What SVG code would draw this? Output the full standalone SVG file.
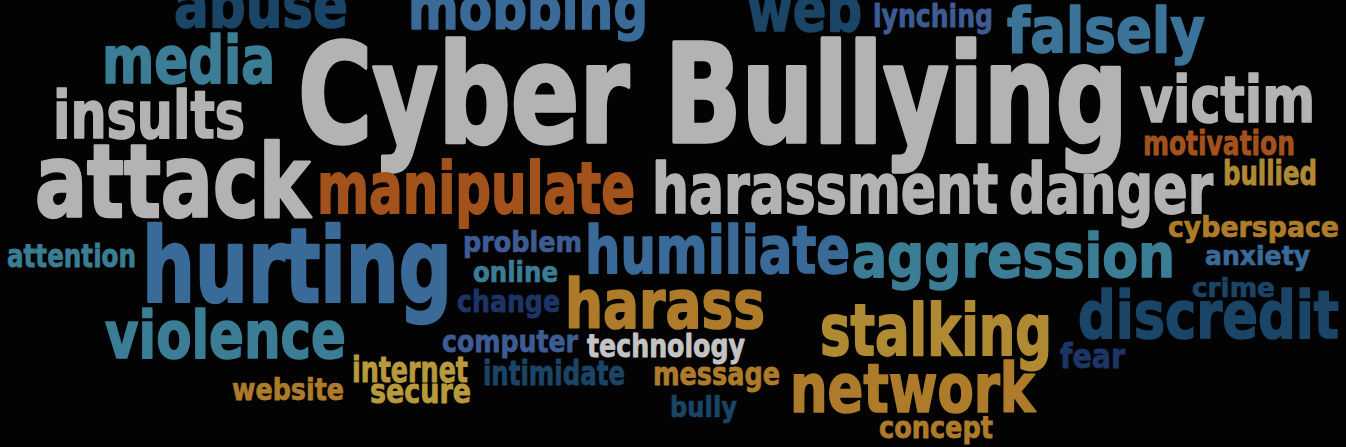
<svg xmlns="http://www.w3.org/2000/svg" width="1346" height="447" viewBox="0 0 1346 447">
<style>
text{font-family:"DejaVu Sans Condensed","DejaVu Sans","Liberation Sans Narrow",sans-serif;font-weight:bold;stroke-width:0.025em;stroke-linejoin:round;}
.gray{fill:#b3b3b3;stroke:#b3b3b3}
.light{fill:#c4c4c4;stroke:#c4c4c4}
.teal{fill:#3b7d95;stroke:#3b7d95}
.blue{fill:#3a6a98;stroke:#3a6a98}
.sky{fill:#3c7399;stroke:#3c7399}
.purple{fill:#3d5c94;stroke:#3d5c94}
.dark{fill:#1a4566;stroke:#1a4566}
.navy{fill:#1d3566;stroke:#1d3566}
.orange{fill:#a3521c;stroke:#a3521c}
.gold{fill:#ad7b2a;stroke:#ad7b2a}
.amber{fill:#b08a32;stroke:#b08a32}
.yellow{fill:#b89a3c;stroke:#b89a3c}
</style>
<rect width="1346" height="447" fill="#030303"/>
<g id="words">
<text id="abuse" class="dark" x="174" y="27" font-size="62" textLength="174" lengthAdjust="spacingAndGlyphs">abuse</text>
<text id="mobbing" class="blue" x="408" y="29" font-size="58" textLength="240" lengthAdjust="spacingAndGlyphs">mobbing</text>
<text id="web" class="dark" x="747" y="31" font-size="62" textLength="115" lengthAdjust="spacingAndGlyphs">web</text>
<text id="lynching" class="purple" x="873" y="27" font-size="32" textLength="120" lengthAdjust="spacingAndGlyphs">lynching</text>
<text id="falsely" class="sky" x="1007" y="52" font-size="62" textLength="198" lengthAdjust="spacingAndGlyphs">falsely</text>
<text id="media" class="teal" x="102" y="83" font-size="66" textLength="173" lengthAdjust="spacingAndGlyphs">media</text>
<text id="cyber-bullying" class="gray" x="298" y="142" font-size="138" textLength="830" lengthAdjust="spacingAndGlyphs">Cyber Bullying</text>
<text id="insults" class="gray" x="53" y="138" font-size="66" textLength="192" lengthAdjust="spacingAndGlyphs">insults</text>
<text id="victim" class="gray" x="1140" y="122" font-size="64" textLength="175" lengthAdjust="spacingAndGlyphs">victim</text>
<text id="motivation" class="orange" x="1143" y="155" font-size="33" textLength="152" lengthAdjust="spacingAndGlyphs">motivation</text>
<text id="bullied" class="amber" x="1223" y="185" font-size="34" textLength="94" lengthAdjust="spacingAndGlyphs">bullied</text>
<text id="attack" class="gray" x="35" y="217" font-size="101" textLength="275" lengthAdjust="spacingAndGlyphs">attack</text>
<text id="manipulate" class="orange" x="317" y="213" font-size="72" textLength="318" lengthAdjust="spacingAndGlyphs">manipulate</text>
<text id="harassment" class="gray" x="652" y="213" font-size="70" textLength="346" lengthAdjust="spacingAndGlyphs">harassment</text>
<text id="danger" class="gray" x="1009" y="213" font-size="70" textLength="204" lengthAdjust="spacingAndGlyphs">danger</text>
<text id="cyberspace" class="gold" x="1168" y="237" font-size="29" textLength="171" lengthAdjust="spacingAndGlyphs">cyberspace</text>
<text id="attention" class="teal" x="7" y="267" font-size="32" textLength="129" lengthAdjust="spacingAndGlyphs">attention</text>
<text id="hurting" class="blue" x="142" y="302" font-size="104" textLength="310" lengthAdjust="spacingAndGlyphs">hurting</text>
<text id="problem" class="purple" x="463" y="252" font-size="29" textLength="119" lengthAdjust="spacingAndGlyphs">problem</text>
<text id="humiliate" class="blue" x="585" y="273" font-size="66" textLength="265" lengthAdjust="spacingAndGlyphs">humiliate</text>
<text id="aggression" class="teal" x="852" y="277" font-size="60" textLength="323" lengthAdjust="spacingAndGlyphs">aggression</text>
<text id="anxiety" class="blue" x="1205" y="265" font-size="27" textLength="105" lengthAdjust="spacingAndGlyphs">anxiety</text>
<text id="online" class="teal" x="473" y="282" font-size="29" textLength="85" lengthAdjust="spacingAndGlyphs">online</text>
<text id="crime" class="dark" x="1192" y="297" font-size="27" textLength="83" lengthAdjust="spacingAndGlyphs">crime</text>
<text id="change" class="navy" x="457" y="312" font-size="31" textLength="103" lengthAdjust="spacingAndGlyphs">change</text>
<text id="harass" class="gold" x="565" y="328" font-size="67" textLength="200" lengthAdjust="spacingAndGlyphs">harass</text>
<text id="discredit" class="dark" x="1078" y="338" font-size="66" textLength="261" lengthAdjust="spacingAndGlyphs">discredit</text>
<text id="violence" class="teal" x="105" y="358" font-size="66" textLength="241" lengthAdjust="spacingAndGlyphs">violence</text>
<text id="computer" class="purple" x="442" y="352" font-size="31" textLength="136" lengthAdjust="spacingAndGlyphs">computer</text>
<text id="technology" class="light" x="587" y="357" font-size="32" textLength="158" lengthAdjust="spacingAndGlyphs">technology</text>
<text id="stalking" class="amber" x="820" y="355" font-size="72" textLength="232" lengthAdjust="spacingAndGlyphs">stalking</text>
<text id="fear" class="navy" x="1060" y="368" font-size="33" textLength="65" lengthAdjust="spacingAndGlyphs">fear</text>
<text id="internet" class="yellow" x="352" y="382" font-size="36" textLength="116" lengthAdjust="spacingAndGlyphs">internet</text>
<text id="intimidate" class="dark" x="483" y="385" font-size="33" textLength="142" lengthAdjust="spacingAndGlyphs">intimidate</text>
<text id="message" class="gold" x="653" y="385" font-size="32" textLength="127" lengthAdjust="spacingAndGlyphs">message</text>
<text id="website" class="gold" x="232" y="400" font-size="30" textLength="112" lengthAdjust="spacingAndGlyphs">website</text>
<text id="secure" class="yellow" x="370" y="403" font-size="33" textLength="101" lengthAdjust="spacingAndGlyphs">secure</text>
<text id="network" class="gold" x="790" y="412" font-size="68" textLength="245" lengthAdjust="spacingAndGlyphs">network</text>
<text id="bully" class="dark" x="670" y="417" font-size="28" textLength="67" lengthAdjust="spacingAndGlyphs">bully</text>
<text id="concept" class="gold" x="879" y="438" font-size="31" textLength="114" lengthAdjust="spacingAndGlyphs">concept</text>
</g>
</svg>
